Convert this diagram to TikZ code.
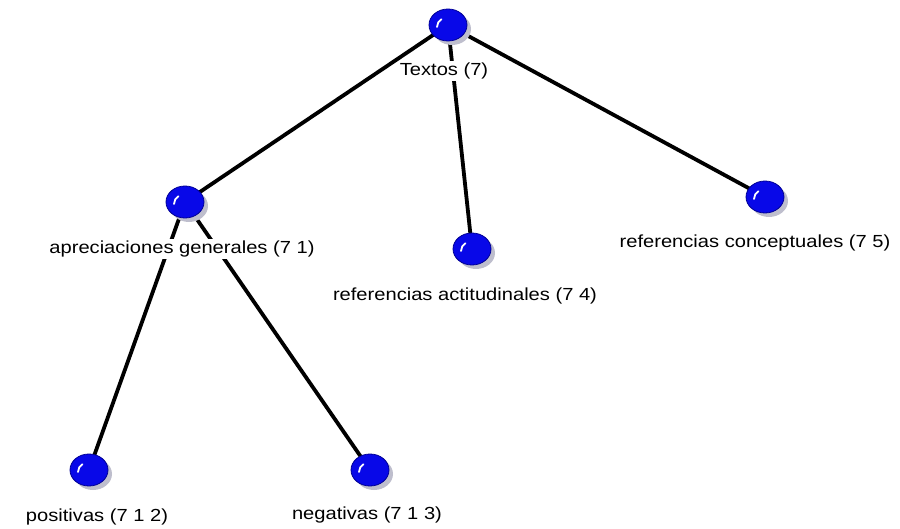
\documentclass[tikz,border=0pt]{standalone}
\usepackage{fontspec}
\setmainfont{Liberation Sans}
\newfontfamily\lblfont[FakeStretch=1.15]{Liberation Sans}
\usetikzlibrary{shapes.geometric,backgrounds}
\definecolor{ballblue}{RGB}{8,8,232}
\definecolor{balledge}{RGB}{0,0,150}
\definecolor{shadowgrey}{RGB}{190,190,205}
\tikzset{
  ball/.style={ellipse, minimum width=38pt, minimum height=32pt, inner sep=0pt,
    fill=ballblue, draw=balledge, line width=0.8pt,
    path picture={
      \draw[white, line width=1.8pt, line cap=round]
        ([xshift=-11pt,yshift=-2pt]path picture bounding box.center) arc (180:120:9pt);
    }},
  shadow/.style={ellipse, minimum width=38pt, minimum height=32pt, inner sep=0pt, fill=shadowgrey},
  lbl/.style={fill=white, inner sep=1.5pt, font=\lblfont\fontsize{17.5}{20}\selectfont},
  link/.style={line width=3.8pt, black}
}
\begin{document}
\begin{tikzpicture}[x=1pt,y=-1pt]
\useasboundingbox (0,0) rectangle (900,529);
% shadows
\foreach \x/\y in {448/25, 185/202, 472/249, 765/197, 89/470, 370/470}
  \node[shadow] at (\x+4,\y+4) {};
\node[ball] (t) at (448,25) {};
\node[ball] (a) at (185,202) {};
\node[ball] (r4) at (472,249) {};
\node[ball] (r5) at (765,197) {};
\node[ball] (p) at (89,470) {};
\node[ball] (n) at (370,470) {};
\begin{scope}[on background layer]
  \draw[link] (t.center) -- (a.center);
  \draw[link] (t.center) -- (r4.center);
  \draw[link] (t.center) -- (r5.center);
  \draw[link] (a.center) -- (p.center);
  \draw[link] (a.center) -- (n.center);
\end{scope}
\node[lbl] (lt) at (444,71) {Textos (7)};
\node[lbl] (la) at (182,249) {apreciaciones generales (7 1)};
\node[lbl] (l4) at (465,296) {referencias actitudinales (7 4)};
\node[lbl] (l5) at (755,243) {referencias conceptuales (7 5)};
\node[lbl] (lp) at (97,517) {positivas (7 1 2)};
\node[lbl] (ln) at (367,515) {negativas (7 1 3)};
\end{tikzpicture}
\end{document}
